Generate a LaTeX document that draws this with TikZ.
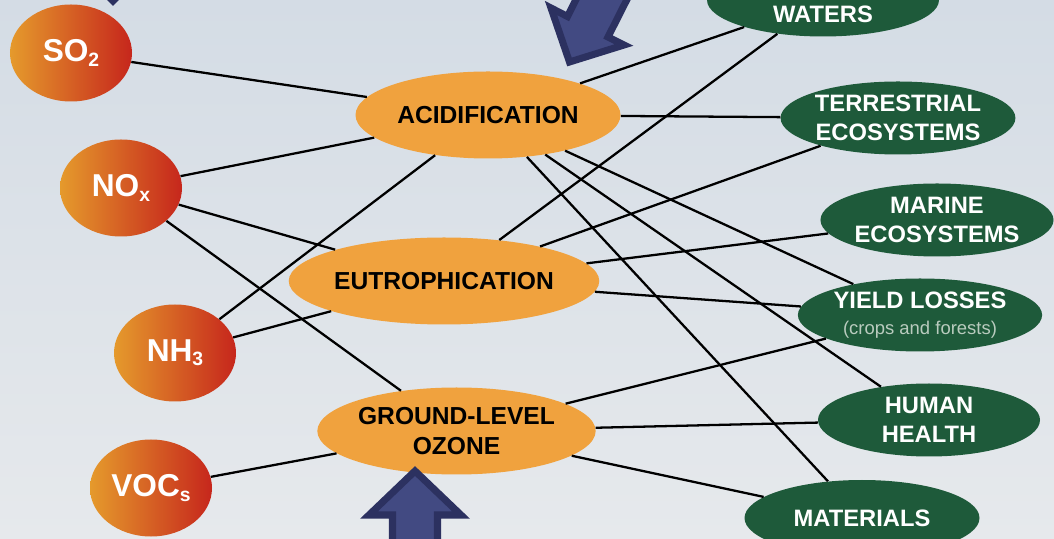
\documentclass[tikz,border=0pt]{standalone}
\usepackage{fontspec}
\setmainfont{Liberation Sans}
\usetikzlibrary{shapes.geometric}
\definecolor{skytop}{HTML}{D4DCE5}
\definecolor{skybottom}{HTML}{E6E9EC}
\definecolor{pollutantleft}{HTML}{E59A2C}
\definecolor{pollutantright}{HTML}{C6261C}
\definecolor{effectfill}{HTML}{F0A23E}
\definecolor{receptorfill}{HTML}{1E5A3A}
\definecolor{smalltext}{HTML}{B9CBBE}
\definecolor{arrowedge}{HTML}{2C3160}
\definecolor{arrowfill}{HTML}{424A82}
\newcommand{\chemsub}[1]{\raisebox{-0.25ex}{\fontsize{11}{11}\selectfont #1}}

\begin{document}
\begin{tikzpicture}[y=-1cm]
        \path[use as bounding box, top color=skytop, bottom color=skybottom] (0,0) rectangle (21.08,10.78);
        \clip (0,0) rectangle (21.08,10.78);
        % pollutants
        \begin{scope}[every node/.style={ellipse,inner sep=0pt,minimum width=2.44cm,minimum height=1.94cm,left color=pollutantleft,right color=pollutantright,text=white,font=\fontsize{18}{20}\selectfont\bfseries}]
            \node (SO2) at (1.42,1.06) {SO\chemsub{2}};
            \node (NOx) at (2.42,3.76) {NO\chemsub{x}};
            \node (NH3) at (3.5,7.06) {NH\chemsub{3}};
            \node (VOCs) at (3.02,9.76) {VOC\chemsub{s}};
        \end{scope}
        % effects
        \begin{scope}[every node/.style={ellipse,inner sep=0pt,minimum width=5.3cm,minimum height=1.74cm,fill=effectfill,text=black,align=center,font=\fontsize{14}{17}\selectfont\bfseries}]
            \node (ACID) at (9.76,2.3) {ACIDIFICATION};
            \node (EUTRO) at (8.88,5.62) {EUTROPHICATION};
            \node (OZONE) at (9.13,8.62) {GROUND-LEVEL\\OZONE};
        \end{scope}
        % receptors
        \begin{scope}[every node/.style={ellipse,inner sep=0pt,minimum height=1.46cm,fill=receptorfill,text=white,align=center,font=\fontsize{13.5}{16.5}\selectfont\bfseries}]
            \node[minimum width=4.64cm] (WATERS) at (16.46,0) {\phantom{WATERS}\\WATERS};
            \node[minimum width=4.06cm] (TERR) at (17.96,2.36) {TERRESTRIAL\\ECOSYSTEMS};
            \node[minimum width=4.2cm] (MARINE) at (18.74,4.4) {MARINE\\ECOSYSTEMS};
            \node[minimum width=4.6cm] (YIELD) at (18.4,6.3) {YIELD LOSSES\\[-2pt]{\fontsize{10.5}{12}\selectfont\mdseries\color{smalltext}(crops and forests)}};
            \node[minimum width=4.44cm] (HEALTH) at (18.58,8.4) {HUMAN\\HEALTH};
            \node[minimum width=4.7cm,minimum height=1.52cm] (MATERIALS) at (17.24,10.36) {MATERIALS};
        \end{scope}
        \begin{scope}[line width=1.3pt]
            \draw (SO2) -- (ACID);
            \draw (NOx) -- (ACID);
            \draw (NOx) -- (EUTRO);
            \draw (NOx) -- (OZONE);
            \draw (NH3) -- (ACID);
            \draw (NH3) -- (EUTRO);
            \draw (VOCs) -- (OZONE);
            \draw (ACID) -- (WATERS);
            \draw (ACID) -- (TERR);
            \draw (ACID) -- (YIELD);
            \draw (ACID) -- (HEALTH);
            \draw (ACID) -- (MATERIALS);
            \draw (EUTRO) -- (WATERS);
            \draw (EUTRO) -- (TERR);
            \draw (EUTRO) -- (MARINE);
            \draw (EUTRO) -- (YIELD);
            \draw (OZONE) -- (YIELD);
            \draw (OZONE) -- (HEALTH);
            \draw (OZONE) -- (MATERIALS);
        \end{scope}
        % block arrows
        \begin{scope}[fill=arrowfill,draw=arrowedge,line width=4pt,line join=miter]
            \filldraw (2.26,0.02) -- (3.22,-0.94) -- (1.3,-0.94) -- cycle;
            \filldraw (11.39,1.24) -- (12.48,0.9) -- (12.16,0.74) -- (13.07,-1.06) -- (12.26,-1.5) -- (11.35,0.33) -- (11.02,0.16) -- cycle;
            \filldraw (8.3,9.42) -- (9.22,10.3) -- (8.75,10.3) -- (8.75,11.5) -- (7.85,11.5) -- (7.85,10.3) -- (7.38,10.3) -- cycle;
        \end{scope}
    \end{tikzpicture}
\end{document}
